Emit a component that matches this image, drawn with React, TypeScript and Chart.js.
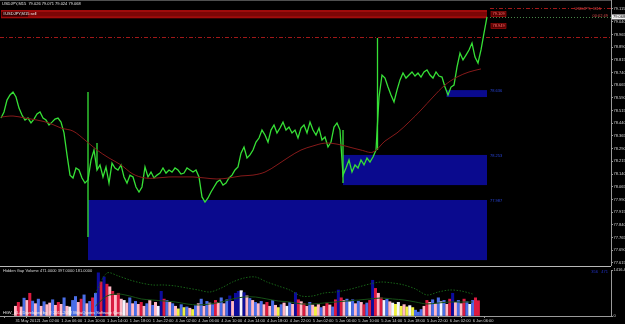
import React, { useEffect, useRef } from 'react';
import { Chart, registerables } from 'chart.js';

Chart.register(...registerables);

const FONT = '"Liberation Sans", Arial, sans-serif';
const FS = 4;

// ---------- price data (USDJPY M15) ----------
const closeStep = 2; // one close every 2 bars
const closes = [
  78.471, 78.507, 78.577, 78.607, 78.625, 78.595, 78.530, 78.489, 78.459, 78.471,
  78.442, 78.465, 78.495, 78.507, 78.471, 78.459, 78.430, 78.447, 78.465, 78.471,
  78.447, 78.383, 78.253, 78.134, 78.117, 78.176, 78.164, 78.117, 78.087, 78.105,
  78.223, 78.282, 78.164, 78.194, 78.123, 78.182, 78.087, 78.205, 78.176, 78.164,
  78.194, 78.123, 78.087, 78.134, 78.123, 78.064, 78.034, 78.064, 78.182, 78.123,
  78.152, 78.117, 78.134, 78.146, 78.176, 78.146, 78.164, 78.152, 78.176, 78.164,
  78.140, 78.146, 78.176, 78.164, 78.152, 78.164, 78.123, 78.005, 77.975, 77.999,
  78.034, 78.064, 78.093, 78.105, 78.075, 78.087, 78.117, 78.134, 78.164, 78.182,
  78.264, 78.300, 78.235, 78.253, 78.282, 78.329, 78.353, 78.400, 78.371, 78.329,
  78.400, 78.430, 78.383, 78.412, 78.447, 78.400, 78.418, 78.383, 78.400, 78.353,
  78.412, 78.430, 78.383, 78.447, 78.400, 78.371, 78.412, 78.341, 78.359, 78.300,
  78.329, 78.418, 78.442, 78.400, 78.134, 78.176, 78.223, 78.152, 78.194, 78.176,
  78.223, 78.194, 78.235, 78.211, 78.241, 78.282, 78.595, 78.725, 78.707, 78.654,
  78.607, 78.566, 78.636, 78.696, 78.737, 78.707, 78.725, 78.743, 78.719, 78.737,
  78.713, 78.743, 78.755, 78.725, 78.707, 78.743, 78.719, 78.713, 78.654, 78.607,
  78.654, 78.666, 78.772, 78.855, 78.814, 78.843, 78.873, 78.914, 78.831, 78.796,
  78.873, 78.973, 79.068,
];

const maStep = 8;
const maValues = [
  78.477, 78.483, 78.471, 78.459, 78.442, 78.412, 78.394, 78.341, 78.282, 78.235,
  78.194, 78.140, 78.117, 78.117, 78.123, 78.123, 78.123, 78.117, 78.111, 78.117,
  78.129, 78.134, 78.152, 78.194, 78.241, 78.282, 78.306, 78.323, 78.317, 78.300,
  78.282, 78.270, 78.335, 78.383, 78.447, 78.518, 78.595, 78.666, 78.713, 78.743,
  78.761,
];

// long spikes (high / low of single bars)
const wickBars = [58, 64, 228, 251];
const wickHighs = [78.625, 78.323, 78.400, 78.944];
const wickLows = [77.768, 78.170, 78.087, 78.282];

// demand zones (blue rectangles)
const zoneStart = [58, 228, 297];
const zoneEnd = [324, 324, 324];
const zoneHigh = [77.987, 78.253, 78.636];
const zoneLow = [77.632, 78.075, 78.595];

// sell band (red) and levels
const sellBand = [79.109, 79.060];
const sellBandBars = [0, 324];
const levelDashDot = 78.949;
const levelTop = 79.121;
const bidPrice = 79.068;

const priceTicks = [
  79.115, 79.04, 78.965, 78.89, 78.815, 78.74, 78.665, 78.59, 78.515, 78.44, 78.365,
  78.29, 78.215, 78.14, 78.065, 77.99, 77.915, 77.84, 77.765, 77.69, 77.615,
];
const priceMin = 77.5972;
const priceMax = 79.1681;

const timeStep = 16;
const timeLabels = [
  '31 May 2012', '1 Jun 02:00', '1 Jun 06:00', '1 Jun 10:00', '1 Jun 14:00', '1 Jun 18:00',
  '1 Jun 22:00', '4 Jun 02:00', '4 Jun 06:00', '4 Jun 10:00', '4 Jun 14:00', '4 Jun 18:00',
  '4 Jun 22:00', '5 Jun 02:00', '5 Jun 06:00', '5 Jun 10:00', '5 Jun 14:00', '5 Jun 18:00',
  '5 Jun 22:00', '6 Jun 02:00', '6 Jun 06:00',
];

// ---------- volume sub-window ----------
const volumes = [
  300, 420, 280, 550, 480, 700, 460,
  380, 520, 300, 440, 350, 400, 500, 330,
  420, 360, 560, 300, 280, 480,
  600, 420, 520, 650, 380, 450, 560, 700,
  1330,
  1050, 1200, 980, 900, 760, 640, 700,
  520, 480, 400, 560, 380, 450, 360, 420, 300,
  380, 480, 330, 420, 300, 760, 520,
  480, 420, 380, 300, 220, 350, 260, 280,
  240, 200, 320, 380, 520, 300, 450,
  400, 350, 480, 420, 560, 380, 500, 620, 450, 700,
  760, 780, 720, 620, 540, 480, 420,
  380, 450, 350, 420, 300, 480, 330, 260, 350, 400, 300,
  420, 360, 720, 500, 440, 380, 300, 420, 340, 280,
  350, 260, 300, 400, 340, 280, 500, 800,
  560, 480, 520, 440, 500, 380, 460, 420, 350, 400, 480,
  1100, 850, 700,
  560, 480, 520, 440, 400, 360, 420, 300, 350, 280,
  320, 260, 180, 120, 200, 300, 480, 420,
  500, 380, 560, 440, 480, 360, 520, 700,
  420, 480, 380, 520, 440, 360, 480, 560, 471,
];
const volumeColorCodes =
  'prpbprb' + 'pbpbppbp' + 'rpbpwb' + 'bprbpbrb' + 'n' + 'rnrprpr' + 'pwpbpbprp' +
  'bpbpwnr' + 'bpbpybyb' + 'pybpbpb' + 'pbrpbpbnpn' + 'nwnpbpb' + 'pbprpbpybpw' +
  'bpnrprpbpy' + 'pbprpbrn' + 'rpbwbpbprbr' + 'nrp' + 'rwbpwywypy' + 'wybbbprp' +
  'bpbwbprn' + 'pbprbwbrr';
const volPalette: Record<string, string> = {
  b: '#4a6ee8', n: '#0c0c9c', r: '#dc1a40', p: '#ffb8c6', w: '#f4f4ff', y: '#f0f040',
};
const volLineStart = 56;
const volLineStep = 8;
const volUpper = [
  700, 1324, 1232, 1109, 1016, 955, 955, 924, 862, 801, 739, 862, 1047, 1170, 1201, 1047, 924,
  801, 616, 616, 708, 739, 801, 893, 986, 1047, 1016, 955, 832, 647, 739, 801, 770, 678,
];
const volLower = [
  308, 616, 678, 616, 524, 493, 462, 431, 370, 339, 370, 431, 524, 585, 585, 524, 462, 431,
  370, 370, 400, 431, 462, 493, 524, 554, 524, 493, 431, 370, 400, 431, 431, 431,
];
const volMax = 1416.48;

// visible bar range
const X_MIN = -0.667;
const X_MAX = 406.67;

function txt(ctx: CanvasRenderingContext2D, s: string, x: number, y: number, color: string, align: CanvasTextAlign = 'left') {
  ctx.fillStyle = color;
  ctx.textAlign = align;
  ctx.textBaseline = 'middle';
  ctx.font = `${FS}px ${FONT}`;
  ctx.fillText(s, x, y);
}

function hLine(ctx: CanvasRenderingContext2D, x0: number, x1: number, y: number, color: string, dash: number[]) {
  ctx.beginPath();
  ctx.setLineDash(dash);
  ctx.strokeStyle = color;
  ctx.lineWidth = 1;
  ctx.moveTo(x0, Math.round(y) + 0.5);
  ctx.lineTo(x1, Math.round(y) + 0.5);
  ctx.stroke();
  ctx.setLineDash([]);
}

const mainOverlay = {
  id: 'mainOverlay',
  beforeDatasetsDraw(chart: any) {
    const { ctx, chartArea: a, scales } = chart;
    const x = scales.x, y = scales.y;
    ctx.save();
    ctx.beginPath();
    ctx.rect(a.left, a.top, a.right - a.left, a.bottom - a.top);
    ctx.clip();
    ctx.fillStyle = '#505050';
    ctx.fillRect(a.left, 0, a.right - a.left, 1);
    for (let i = 0; i < zoneStart.length; i++) {
      const x0 = x.getPixelForValue(zoneStart[i]);
      const x1 = x.getPixelForValue(zoneEnd[i]);
      const y0 = y.getPixelForValue(zoneHigh[i]);
      const y1 = y.getPixelForValue(zoneLow[i]);
      ctx.fillStyle = '#0a0a8e';
      ctx.fillRect(x0, y0, x1 - x0, y1 - y0);
    }
    {
      const x0 = x.getPixelForValue(sellBandBars[0]);
      const x1 = x.getPixelForValue(sellBandBars[1]);
      const y0 = y.getPixelForValue(sellBand[0]);
      const y1 = y.getPixelForValue(sellBand[1]);
      ctx.fillStyle = '#a00c0c';
      ctx.fillRect(x0, y0, x1 - x0, y1 - y0);
      ctx.fillStyle = '#7c0606';
      ctx.fillRect(x0, y0 + 2, x1 - x0, y1 - y0 - 4);
    }
    const endX = x.getPixelForValue(sellBandBars[1] + 2);
    hLine(ctx, a.left, a.right, y.getPixelForValue(levelDashDot), '#a01818', [4, 2, 1, 2]);
    hLine(ctx, endX, a.right, y.getPixelForValue(levelTop), '#a01818', [4, 2, 1, 2]);
    hLine(ctx, endX, a.right, y.getPixelForValue(bidPrice), '#4a8a4a', [1, 2]);
    ctx.restore();
  },
  afterDatasetsDraw(chart: any) {
    const { ctx, chartArea: a, scales } = chart;
    const x = scales.x, y = scales.y;
    ctx.save();
    txt(ctx, 'USDJPY,M15  79.026 79.071 79.024 79.068', 2, 4, '#e6e6e6');
    const by = (y.getPixelForValue(sellBand[0]) + y.getPixelForValue(sellBand[1])) / 2;
    ctx.fillStyle = '#3a0000';
    ctx.fillRect(2, by - 2.5, 26, 5);
    txt(ctx, '#USDJPY,M15 sell', 3, by, '#f0f0f0');
    const tx = x.getPixelForValue(sellBandBars[1]) + 4;
    const tags = [sellBand[0].toFixed(3), levelDashDot.toFixed(3)];
    tags.forEach((t, i) => {
      const ty = by + i * 12;
      ctx.fillStyle = '#5a0000';
      ctx.fillRect(tx, ty - 2.5, 15, 5);
      ctx.strokeStyle = '#b01010';
      ctx.lineWidth = 0.6;
      ctx.strokeRect(tx, ty - 2.5, 15, 5);
      txt(ctx, t, tx + 1.5, ty, '#ff7070');
    });
    for (let i = 0; i < zoneStart.length; i++) {
      txt(ctx, zoneHigh[i].toFixed(3), x.getPixelForValue(zoneEnd[i]) + 3, y.getPixelForValue(zoneHigh[i]) + 1, '#2844d8');
    }
    txt(ctx, 'USDJPY,  M15', a.right - 10, 9, '#d84848', 'right');
    txt(ctx, '00:02:49', a.right - 3, 16, '#d84848', 'right');
    const py = y.getPixelForValue(bidPrice);
    ctx.fillStyle = '#f2f2f2';
    ctx.fillRect(a.right + 1, py - 2.5, 13, 5);
    txt(ctx, bidPrice.toFixed(3), a.right + 2, py, '#000000');
    ctx.restore();
  },
};

const volOverlay = {
  id: 'volOverlay',
  beforeDatasetsDraw(chart: any) {
    const { ctx, chartArea: a } = chart;
    ctx.save();
    ctx.fillStyle = '#b8b8b8';
    ctx.fillRect(0, 0, a.right, 1);
    ctx.restore();
  },
  afterDatasetsDraw(chart: any) {
    const { ctx, chartArea: a } = chart;
    ctx.save();
    txt(ctx, 'Hidden Gap Volume 471.0000 397.0000 181.0000', 3, 5, '#d8d8d8');
    txt(ctx, '356   471', a.right - 3, 5.5, '#2232c8', 'right');
    txt(ctx, 'HGV_v1.4 Developed by  © 2011-2012 MetaQuotes Software Corp.', 3, a.bottom - 3, '#f0f0f0');
    ctx.restore();
  },
};

const axisGrid = { drawOnChartArea: false, drawTicks: true, tickLength: 2, color: '#9a9a9a' };
const axisBorder = { display: true, color: '#9a9a9a', width: 1 };
const tickFont = { size: FS, family: FONT };

export default function App() {
  const mainRef = useRef<HTMLCanvasElement>(null);
  const volRef = useRef<HTMLCanvasElement>(null);

  useEffect(() => {
    document.body.style.margin = '0';
    document.body.style.background = '#000';

    const priceData = closes.map((v, i) => ({ x: i * closeStep, y: v }));
    const maData = maValues.map((v, i) => ({ x: i * maStep, y: v }));
    const wickData: any[] = [];
    wickBars.forEach((b, i) => {
      wickData.push({ x: b, y: wickHighs[i] }, { x: b, y: wickLows[i] }, { x: b, y: null });
    });

    const main = new Chart(mainRef.current!, {
      type: 'line',
      data: {
        datasets: [
          { label: 'MA', data: maData, borderColor: '#861a1a', borderWidth: 1, pointRadius: 0, tension: 0.35 },
          { label: 'Price', data: priceData, borderColor: '#36e036', borderWidth: 1.3, pointRadius: 0, tension: 0 },
          { label: 'Spikes', data: wickData, borderColor: '#36e036', borderWidth: 1.3, pointRadius: 0, spanGaps: false },
        ],
      },
      options: {
        animation: false,
        responsive: false,
        layout: { padding: 0 },
        plugins: { legend: { display: false }, tooltip: { enabled: false } },
        scales: {
          x: { type: 'linear', min: X_MIN, max: X_MAX, display: false },
          y: {
            type: 'linear',
            position: 'right',
            min: priceMin,
            max: priceMax,
            afterBuildTicks: (s: any) => { s.ticks = priceTicks.map((v) => ({ value: v })); },
            afterFit: (s: any) => { s.width = 14; s.paddingTop = 0; s.paddingBottom = 0; },
            ticks: {
              autoSkip: false,
              padding: 0.5,
              color: '#d4d4d4',
              font: tickFont,
              callback: (v: any) => Number(v).toFixed(3),
            },
            grid: axisGrid,
            border: axisBorder,
          },
        },
      } as any,
      plugins: [mainOverlay],
    });

    const vol = new Chart(volRef.current!, {
      type: 'bar',
      data: {
        datasets: [
          {
            type: 'line',
            label: 'upper',
            data: volUpper.map((v, i) => ({ x: volLineStart + i * volLineStep, y: v })),
            borderColor: '#176317',
            borderDash: [1.5, 1.5],
            borderWidth: 1,
            pointRadius: 0,
            tension: 0.3,
          },
          {
            type: 'line',
            label: 'lower',
            data: volLower.map((v, i) => ({ x: volLineStart + i * volLineStep, y: v })),
            borderColor: '#165016',
            borderWidth: 1,
            pointRadius: 0,
            tension: 0.3,
          },
          {
            type: 'bar',
            label: 'volume',
            data: volumes.map((v, i) => ({ x: i * closeStep, y: v })),
            backgroundColor: volumes.map((_, i) => volPalette[volumeColorCodes[i]] || '#4a6ee8'),
            barThickness: 2.4,
            grouped: false,
          },
        ] as any,
      },
      options: {
        animation: false,
        responsive: false,
        layout: { padding: { top: 4, left: 0, right: 0, bottom: 0 } },
        plugins: { legend: { display: false }, tooltip: { enabled: false } },
        scales: {
          x: {
            type: 'linear',
            min: X_MIN,
            max: X_MAX,
            position: 'bottom',
            afterBuildTicks: (s: any) => { s.ticks = timeLabels.map((_, i) => ({ value: i * timeStep })); },
            afterFit: (s: any) => { s.height = 8; s.paddingLeft = 0; s.paddingRight = 0; },
            ticks: {
              autoSkip: false,
              maxRotation: 0,
              minRotation: 0,
              align: 'start',
              padding: 0.5,
              color: '#d4d4d4',
              font: tickFont,
              callback: (_v: any, i: number) => timeLabels[i],
            },
            grid: axisGrid,
            border: axisBorder,
          },
          y: {
            type: 'linear',
            position: 'right',
            min: 0,
            max: volMax,
            afterBuildTicks: (s: any) => { s.ticks = [{ value: 0 }, { value: volMax }]; },
            afterFit: (s: any) => { s.width = 14; s.paddingTop = 0; s.paddingBottom = 0; },
            ticks: {
              autoSkip: false,
              padding: 0.5,
              color: '#d4d4d4',
              font: tickFont,
              callback: (v: any) => (Number(v) === 0 ? '0' : volMax.toFixed(2)),
            },
            grid: axisGrid,
            border: axisBorder,
          },
        },
      } as any,
      plugins: [volOverlay],
    });

    return () => {
      main.destroy();
      vol.destroy();
    };
  }, []);

  return (
    <div style={{ position: 'fixed', left: 0, top: 0, width: 625, height: 324, background: '#000', overflow: 'hidden' }}>
      <canvas ref={mainRef} width={625} height={266} style={{ display: 'block', width: 625, height: 266 }} />
      <canvas ref={volRef} width={625} height={58} style={{ display: 'block', width: 625, height: 58 }} />
    </div>
  );
}
